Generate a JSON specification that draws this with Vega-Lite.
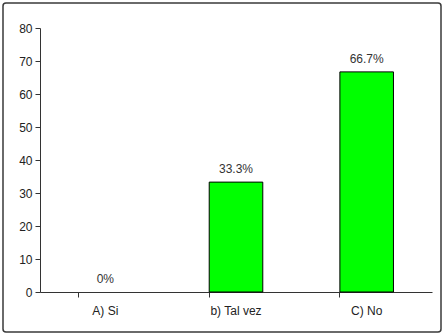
{
  "$schema": "https://vega.github.io/schema/vega-lite/v6.json",
  "width": 438,
  "height": 329,
  "autosize": {"type": "none"},
  "padding": {"left": 3, "top": 3, "right": 3, "bottom": 3},
  "background": "white",
  "config": {
    "view": {"stroke": "#3a3a3a", "strokeWidth": 1.5, "cornerRadius": 3},
    "font": "Liberation Sans",
    "axis": {"labelFont": "Liberation Sans", "labelFontSize": 12, "labelColor": "#222", "domainColor": "#333", "tickColor": "#333", "grid": false, "title": null}
  },
  "data": {"values": [
    {"cat": "A) Si", "val": 0, "label": "0%"},
    {"cat": "b) Tal vez", "val": 33.3, "label": "33.3%"},
    {"cat": "C) No", "val": 66.7, "label": "66.7%"}
  ]},
  "encoding": {
    "x": {"field": "cat", "type": "nominal",
      "scale": {"domain": ["A) Si", "b) Tal vez", "C) No"], "range": [37, 429], "paddingInner": 0.59, "paddingOuter": 0.295},
      "axis": {"labelAngle": 0, "bandPosition": 0, "offset": -40, "tickSize": 5, "labelPadding": 8, "domainWidth": 1}},
    "y": {"field": "val", "type": "quantitative",
      "scale": {"domain": [0, 80], "range": [289, 25], "nice": false},
      "axis": {"values": [0,10,20,30,40,50,60,70,80], "offset": -37, "tickSize": 5, "labelPadding": 3}}
  },
  "layer": [
    {"transform": [{"filter": "datum.val > 0"}],
     "mark": {"type": "bar", "fill": "#00FF00", "stroke": "#000", "strokeWidth": 1}},
    {"mark": {"type": "text", "baseline": "alphabetic", "dy": -9, "fontSize": 12, "color": "#333", "font": "Liberation Sans"},
     "encoding": {"text": {"field": "label"}}}
  ]
}
